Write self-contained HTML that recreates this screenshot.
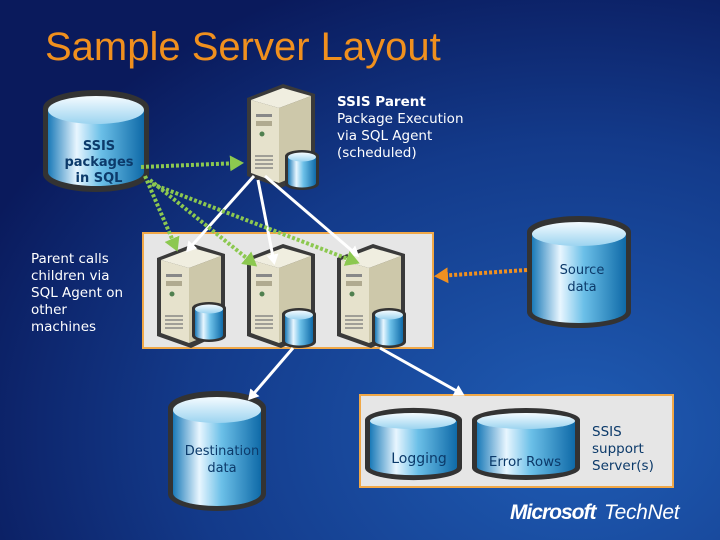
<!DOCTYPE html>
<html><head><style>
html,body{margin:0;padding:0;width:720px;height:540px;overflow:hidden}
svg text{font-family:"DejaVu Sans","Liberation Sans",sans-serif}
</style></head><body>
<svg width="720" height="540" viewBox="0 0 720 540" xmlns="http://www.w3.org/2000/svg">
<defs>
<radialGradient id="bg" cx="0.8" cy="0.8" r="0.9">
<stop offset="0" stop-color="#1f5cb4"/><stop offset="0.6" stop-color="#133a8a"/><stop offset="1" stop-color="#0a1a5c"/>
</radialGradient>
<linearGradient id="cyl" x1="0" x2="1">
<stop offset="0" stop-color="#1a7ab8"/><stop offset="0.3" stop-color="#e8f6ff"/><stop offset="0.55" stop-color="#6cc0e8"/><stop offset="1" stop-color="#0f6aa8"/>
</linearGradient>
<linearGradient id="top" x1="0" y1="0" x2="0" y2="1">
<stop offset="0" stop-color="#f4fbff"/><stop offset="1" stop-color="#9cd4f0"/>
</linearGradient>
<marker id="wa" markerWidth="4" markerHeight="4" refX="2.5" refY="2" orient="auto" markerUnits="strokeWidth"><path d="M0,0 L3.5,2 L0,4 z" fill="#fff"/></marker>
<marker id="ga" markerWidth="4" markerHeight="4" refX="2.5" refY="2" orient="auto" markerUnits="strokeWidth"><path d="M0,0 L3.5,2 L0,4 z" fill="#8cc850"/></marker>
<marker id="oa" markerWidth="4" markerHeight="4" refX="2.5" refY="2" orient="auto" markerUnits="strokeWidth"><path d="M0,0 L3.5,2 L0,4 z" fill="#f09020"/></marker>
<g id="srv">
<path d="M0,14 L36,0 L68,10 L68,88 L34,104 L0,92 Z" fill="#3a3a3a"/>
<path d="M4,16 L36,4 L64,12 L32,24 Z" fill="#f0eee0"/>
<path d="M4,16 L32,24 L32,99 L4,89 Z" fill="#e6e2cc"/>
<path d="M32,24 L64,12 L64,86 L32,99 Z" fill="#cdc8aa"/>
<rect x="9" y="30" width="16" height="3" fill="#888"/>
<rect x="9" y="37" width="16" height="5" fill="#b0aa90"/>
<circle cx="15" cy="50" r="2.5" fill="#508050"/>
<path d="M8,72 h18 M8,76 h18 M8,80 h18 M8,84 h18" stroke="#777" stroke-width="1.3"/>
</g>
<g id="mini">
<path d="M0,6 v28 a17,6 0 0 0 34,0 v-28 a17,6 0 0 0 -34,0z" fill="#333"/>
<path d="M3,7 v26 a14,4.5 0 0 0 28,0 v-26z" fill="url(#cyl)"/>
<ellipse cx="17" cy="7" rx="14" ry="4.5" fill="url(#top)"/>
</g>
</defs>
<rect width="720" height="540" fill="url(#bg)"/>
<text x="45" y="60" font-size="40" fill="#f0901e" style="font-family:'Liberation Sans',sans-serif">Sample Server Layout</text>

<path d="M43,108 v66 a53,18 0 0 0 106,0 v-66 a53,18 0 0 0 -106,0z" fill="#333"/>
<path d="M48,110 v62 a48,14 0 0 0 96,0 v-62z" fill="url(#cyl)"/>
<ellipse cx="96" cy="110" rx="48" ry="14" fill="url(#top)"/>
<text x="99" y="150" font-size="13" fill="#0c3a6a" text-anchor="middle" font-weight="bold">SSIS</text>
<text x="99" y="166" font-size="13" fill="#0c3a6a" text-anchor="middle" font-weight="bold">packages</text>
<text x="99" y="182" font-size="13" fill="#0c3a6a" text-anchor="middle" font-weight="bold">in SQL</text>

<use href="#srv" x="247" y="84"/>
<use href="#mini" x="285" y="150"/>
<text font-size="13.5" fill="#fff"><tspan x="337" y="106" font-weight="bold">SSIS Parent</tspan><tspan x="337" y="123">Package Execution</tspan><tspan x="337" y="140">via SQL Agent</tspan><tspan x="337" y="157">(scheduled)</tspan></text>

<rect x="143" y="233" width="290" height="115" fill="#e6e6e6" stroke="#f0a848" stroke-width="2"/>
<use href="#srv" x="157" y="244"/><use href="#mini" x="192" y="302"/>
<use href="#srv" x="247" y="244"/><use href="#mini" x="282" y="308"/>
<use href="#srv" x="337" y="244"/><use href="#mini" x="372" y="308"/>

<text font-size="13.5" fill="#fff"><tspan x="31" y="263">Parent calls</tspan><tspan x="31" y="280">children via</tspan><tspan x="31" y="297">SQL Agent on</tspan><tspan x="31" y="314">other</tspan><tspan x="31" y="331">machines</tspan></text>

<path d="M527,232 v80 a52,16 0 0 0 104,0 v-80 a52,16 0 0 0 -104,0z" fill="#333"/>
<path d="M532,234 v77 a47,12 0 0 0 94,0 v-77z" fill="url(#cyl)"/>
<ellipse cx="579" cy="234" rx="47" ry="12" fill="url(#top)"/>
<text x="582" y="274" font-size="13" fill="#0c3a6a" text-anchor="middle">Source</text>
<text x="582" y="291" font-size="13" fill="#0c3a6a" text-anchor="middle">data</text>

<path d="M168,408 v86 a49,17 0 0 0 98,0 v-86 a49,17 0 0 0 -98,0z" fill="#333"/>
<path d="M173,410 v83 a44,13 0 0 0 88,0 v-83z" fill="url(#cyl)"/>
<ellipse cx="217" cy="410" rx="44" ry="13" fill="url(#top)"/>
<text x="222" y="455" font-size="13" fill="#0c3a6a" text-anchor="middle">Destination</text>
<text x="222" y="472" font-size="13" fill="#0c3a6a" text-anchor="middle">data</text>

<rect x="360" y="395" width="313" height="92" fill="#e6e6e6" stroke="#f0a848" stroke-width="2"/>
<path d="M365,420 v48 a48,12 0 0 0 97,0 v-48 a48,12 0 0 0 -97,0z" fill="#333"/>
<path d="M370,421 v46 a43,8 0 0 0 87,0 v-46z" fill="url(#cyl)"/>
<ellipse cx="413" cy="421" rx="43" ry="8" fill="url(#top)"/>
<text x="419" y="463" font-size="14" fill="#0c3a6a" text-anchor="middle">Logging</text>
<path d="M472,420 v48 a54,12 0 0 0 108,0 v-48 a54,12 0 0 0 -108,0z" fill="#333"/>
<path d="M477,421 v46 a49,8 0 0 0 98,0 v-46z" fill="url(#cyl)"/>
<ellipse cx="526" cy="421" rx="49" ry="8" fill="url(#top)"/>
<text x="525" y="466" font-size="13.5" fill="#0c3a6a" text-anchor="middle">Error Rows</text>
<text font-size="13.5" fill="#0c3a6a"><tspan x="592" y="436">SSIS</tspan><tspan x="592" y="453">support</tspan><tspan x="592" y="470">Server(s)</tspan></text>

<g stroke="#fff" stroke-width="3" fill="none" marker-end="url(#wa)">
<line x1="254" y1="176" x2="188" y2="250"/>
<line x1="258" y1="180" x2="274" y2="262"/>
<line x1="265" y1="176" x2="357" y2="255"/>
<line x1="293" y1="348" x2="250" y2="398"/>
<line x1="380" y1="348" x2="462" y2="394"/>
</g>
<g stroke="#8cc850" stroke-width="4" stroke-dasharray="3,2" fill="none" marker-end="url(#ga)">
<line x1="141" y1="167" x2="240" y2="163"/>
<line x1="145" y1="176" x2="176" y2="248"/>
<line x1="150" y1="180" x2="254" y2="264"/>
<line x1="152" y1="184" x2="356" y2="262"/>
</g>
<line x1="527" y1="270" x2="438" y2="276" stroke="#f09020" stroke-width="4" stroke-dasharray="3,2" marker-end="url(#oa)"/>

<text x="510" y="519" font-size="21" fill="#fff" font-weight="bold" font-style="italic" style="font-family:'Liberation Sans',sans-serif" letter-spacing="-1">Microsoft</text>
<text x="604" y="519" font-size="21" fill="#fff" font-style="italic" style="font-family:'Liberation Sans',sans-serif" letter-spacing="-0.3">TechNet</text>
</svg>
</body></html>
